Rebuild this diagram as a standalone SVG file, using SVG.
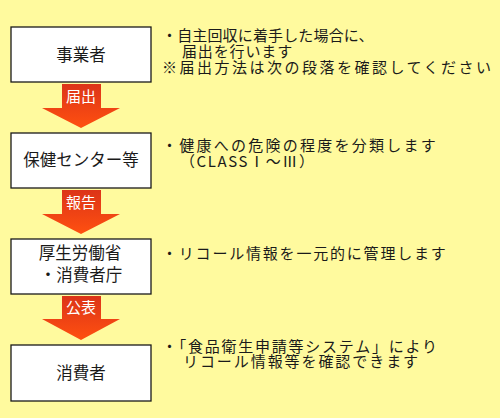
<svg xmlns="http://www.w3.org/2000/svg" width="500" height="418" viewBox="0 0 500 418">
<defs>
<style>
.bg{fill:#FFFA9E}
.box{fill:#FFFFFF;stroke:#1A1A1A;stroke-width:1.3}
.lbl{font-family:"Noto Sans CJK JP","Noto Sans",sans-serif;font-size:16.5px;fill:#1A1A1A;text-anchor:middle}
.note{font-family:"Noto Sans CJK JP","Noto Sans",sans-serif;font-size:15px;fill:#1A1A1A}
.alab{font-family:"Noto Sans CJK JP","Noto Sans",sans-serif;font-size:15px;fill:#FFFFFF;text-anchor:middle}
.arrow{fill:url(#ag)}
</style>
<linearGradient id="ag" x1="0" y1="0" x2="0" y2="1">
<stop offset="0" stop-color="#DC3418"/>
<stop offset="1" stop-color="#FF5010"/>
</linearGradient>
</defs>
<rect class="bg" x="0" y="0" width="500" height="418"/>

<g id="connectors">
<g id="arrow1">
<path class="arrow" d="M62,84 H101 V108 H120 L81,128 L42,108 H62 Z"/>
<text class="alab" x="81" y="102">届出</text>
</g>
<g id="arrow2">
<path class="arrow" d="M62,190 H101 V214 H120 L81,234 L42,214 H62 Z"/>
<text class="alab" x="81" y="208">報告</text>
</g>
<g id="arrow3">
<path class="arrow" d="M62,296 H101 V319 H120 L81,340 L42,319 H62 Z"/>
<text class="alab" x="81" y="313">公表</text>
</g>
</g>

<g id="node1">
<rect class="box" x="11" y="27" width="140" height="55"/>
<text class="lbl" x="81" y="61">事業者</text>
</g>
<g id="node2">
<rect class="box" x="11" y="133" width="140" height="55"/>
<text class="lbl" x="81" y="166">保健センター等</text>
</g>
<g id="node3">
<rect class="box" x="11" y="239" width="140" height="55"/>
<text class="lbl" x="81" y="259"><tspan x="80" y="259">厚生労働省</tspan><tspan x="81" y="281">・消費者庁</tspan></text>
</g>
<g id="node4">
<rect class="box" x="11" y="345" width="140" height="56"/>
<text class="lbl" x="81" y="379">消費者</text>
</g>

<g id="notes">
<text class="note" x="162" y="40.5"><tspan x="162" y="40.5" style="letter-spacing:0.15px">・自主回収に着手した場合に、</tspan><tspan x="182" y="57" style="letter-spacing:0.86px">届出を行います</tspan><tspan x="162" y="72.5" style="letter-spacing:2.5px">※届出方法は次の段落を確認してください</tspan></text>
<text class="note" x="162" y="150.5"><tspan x="162" y="150.5" style="letter-spacing:2.25px">・健康への危険の程度を分類します</tspan><tspan x="180" y="167" style="letter-spacing:1.6px">（CLASSⅠ～Ⅲ）</tspan></text>
<text class="note" x="162" y="259" style="letter-spacing:1.8px">・リコール情報を一元的に管理します</text>
<text class="note" x="162" y="352"><tspan x="162" y="352" style="letter-spacing:1.76px">・「食品衛生申請等システム」により</tspan><tspan x="183" y="367" style="letter-spacing:1.93px">リコール情報等を確認できます</tspan></text>
</g>
</svg>
